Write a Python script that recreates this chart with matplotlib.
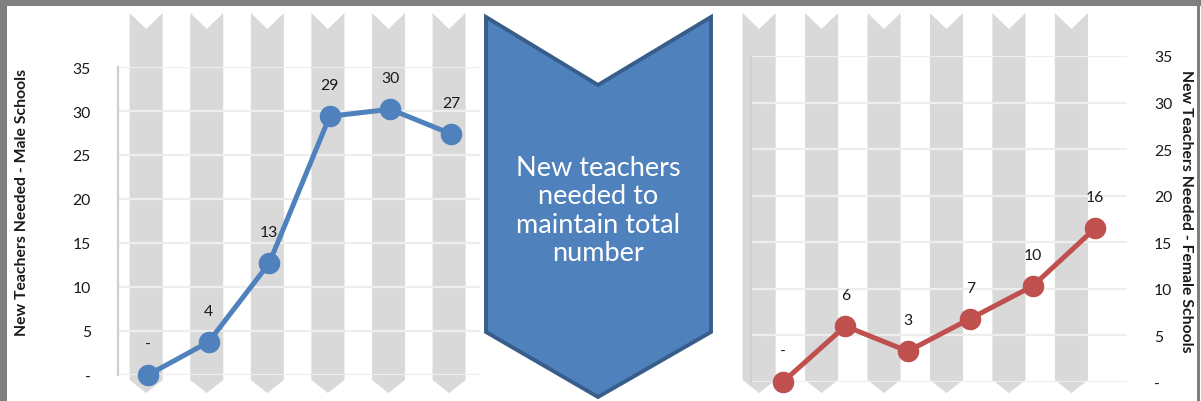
import matplotlib
matplotlib.use("Agg")
import matplotlib.pyplot as plt
from matplotlib.patches import Polygon, Rectangle
import matplotlib.transforms as mtransforms

# ---------------- data ----------------
periods = [1, 2, 3, 4, 5, 6]
male_values = [0, 3.75, 12.7, 29.4, 30.2, 27.4]
female_values = [0, 6.0, 3.3, 6.8, 10.3, 16.5]
y_ticks = [0, 5, 10, 15, 20, 25, 30, 35]
y_tick_labels = ["-", "5", "10", "15", "20", "25", "30", "35"]
male_axis_title = "New Teachers Needed - Male Schools"
female_axis_title = "New Teachers Needed - Female Schools"
center_text = "New teachers\nneeded to\nmaintain total\nnumber"

# ---------------- style ----------------
plt.rcParams['font.family'] = ['Lato', 'DejaVu Sans']
W, H = 1201, 402
BLUE = '#4f81bd'
RED = '#c0504d'
STRIPE = '#d9d9d9'
GRID = '#eeeeee'
TXT = '#1a1a1a'

fig = plt.figure(figsize=(W / 100, H / 100), dpi=100)
fig.patch.set_facecolor('white')


def fx(px):
    return px / W


def fy(py):
    return 1 - py / H


def fmt(v):
    r = int(round(v))
    return "-" if r == 0 else str(r)


def make_panel(rect_px, xlim, values, color, stripe_offset, stripe_w, right_ticks):
    x0, y_top, x1, y_bot = rect_px
    ax = fig.add_axes([fx(x0), fy(y_bot), fx(x1 - x0), (y_bot - y_top) / H])
    ax.set_facecolor('none')
    ax.set_xlim(*xlim)
    ax.set_ylim(0, 35)
    xs = list(range(len(values)))

    # chevron-shaped background stripes (one per category)
    tr = mtransforms.blended_transform_factory(ax.transData, fig.transFigure)
    top, notch, side_bot, tip = fy(14), fy(30), fy(381), fy(394)
    for i in xs:
        c = i + stripe_offset
        l, r = c - stripe_w / 2, c + stripe_w / 2
        poly = Polygon([(l, top), (c, notch), (r, top), (r, side_bot), (c, tip), (l, side_bot)],
                       closed=True, facecolor=STRIPE, edgecolor='none',
                       transform=tr, clip_on=False, zorder=0.1)
        ax.add_patch(poly)

    ax.set_yticks(y_ticks)
    ax.set_yticklabels(y_tick_labels)
    ax.set_xticks([])
    ax.grid(axis='y', color=GRID, linewidth=1.6, zorder=0.5)
    ax.set_axisbelow(True)
    for s in ['top', 'right', 'bottom']:
        ax.spines[s].set_visible(False)
    ax.spines['left'].set_color('#cfcfcf')
    ax.spines['left'].set_linewidth(1.6)
    ax.spines['left'].set_zorder(0.6)
    if right_ticks:
        ax.yaxis.tick_right()
        ax.tick_params(axis='y', length=0, pad=19.5, labelsize=11.3, labelcolor=TXT)
        for lab in ax.get_yticklabels():
            lab.set_horizontalalignment('left')
    else:
        ax.tick_params(axis='y', length=0, pad=19.5, labelsize=11.3, labelcolor=TXT)

    ax.plot(xs, values, color=color, linewidth=3.6, marker='o', markersize=14.5,
            markerfacecolor=color, markeredgecolor=color, clip_on=False, zorder=3)
    for x, v in zip(xs, values):
        ax.annotate(fmt(v), (x, v), xytext=(0, 22.3), textcoords='offset points',
                    ha='center', va='center', fontsize=11.3, color=TXT,
                    annotation_clip=False, zorder=4)
    return ax


ax1 = make_panel((118, 68, 480, 376), (-0.495, 5.48), male_values, BLUE, -0.03, 0.545, False)
ax2 = make_panel((751, 57, 1127, 383), (-0.51, 5.51), female_values, RED, -0.38, 0.53, True)

# axis titles
fig.text(fx(22), fy(202), male_axis_title, rotation=90, ha='center', va='center',
         fontsize=11.3, fontweight='bold', color=TXT)
fig.text(fx(1186), fy(211), female_axis_title, rotation=270, ha='center', va='center',
         fontsize=11.3, fontweight='bold', color=TXT)

# center chevron arrow
chev = [(486, 18), (598, 86), (711, 18), (711, 333), (598, 398), (486, 333)]
fig.patches.append(Polygon([(fx(x), fy(y)) for x, y in chev], closed=True,
                           facecolor=BLUE, edgecolor='#385d8a', linewidth=2.8,
                           joinstyle='miter', transform=fig.transFigure, zorder=5))
fig.text(fx(598), fy(211), center_text, ha='center', va='center', fontsize=19.5,
         color='white', linespacing=1.18, zorder=6)

# outer frame
frame = '#7f7f7f'
fig.patches.append(Rectangle((0, 0), fx(7), 1, transform=fig.transFigure,
                             facecolor=frame, edgecolor='none', zorder=10))
fig.patches.append(Rectangle((0, fy(7)), 1, 7 / H, transform=fig.transFigure,
                             facecolor=frame, edgecolor='none', zorder=10))
fig.patches.append(Rectangle((fx(1197), 0), fx(3), 1, transform=fig.transFigure,
                             facecolor=frame, edgecolor='none', zorder=10))

fig.savefig('out.png', dpi=100, facecolor='white')
